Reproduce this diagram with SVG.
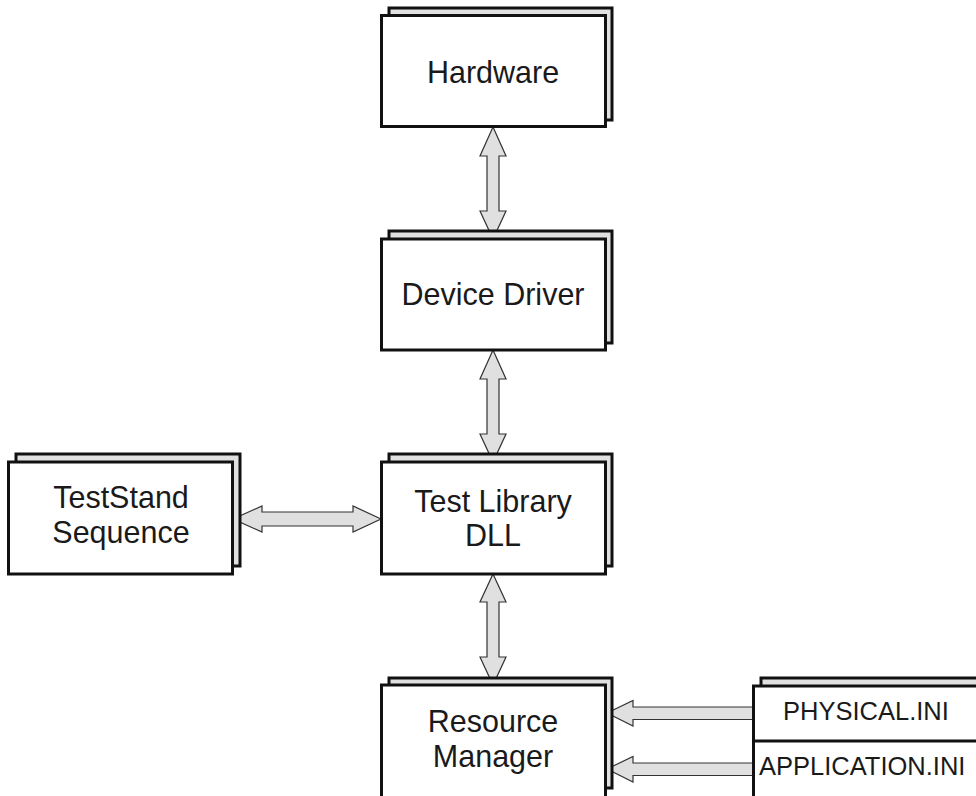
<svg xmlns="http://www.w3.org/2000/svg" width="976" height="796" viewBox="0 0 976 796">
<style>
.back{fill:#e0e0e0;stroke:#111;stroke-width:3}
.front{fill:#fff;stroke:#111;stroke-width:3}
.lbl{font-family:"Liberation Sans",Arial,sans-serif;font-size:30.5px;fill:#1a1a1a;text-anchor:middle}
.ini{font-family:"Liberation Sans",Arial,sans-serif;font-size:25.5px;fill:#1a1a1a}
.arr{fill:#e0e0e0;stroke:#333;stroke-width:1.2;stroke-linejoin:miter}
</style>
<rect width="976" height="796" fill="#fff"/>
<g id="connectors">
<polygon class="arr" points="493,127 506,156 499,156 499,211 506,211 493,239 480,211 487,211 487,156 480,156"/>
<polygon class="arr" points="493,350 506,379 499,379 499,434 506,434 493,462 480,434 487,434 487,379 480,379"/>
<polygon class="arr" points="493,574 506,602 499,602 499,657 506,657 493,685 480,657 487,657 487,602 480,602"/>
<polygon class="arr" points="233,519 262,506 262,512 353,512 353,506 381,519 353,532 353,526 262,526 262,532"/>
<polygon class="arr" points="607,713 633,700.5 633,707 753,707 753,719.5 633,719.5 633,726"/>
<polygon class="arr" points="607,769 633,756.5 633,763 753,763 753,775.5 633,775.5 633,782"/>
</g>
<g id="hardware">
<rect class="back" x="389" y="8" width="223" height="112"/>
<rect class="front" x="381.5" y="15.5" width="224" height="111"/>
<text class="lbl" x="493" y="83">Hardware</text>
</g>
<g id="device-driver">
<rect class="back" x="389" y="231" width="223" height="112"/>
<rect class="front" x="381.5" y="239" width="224" height="111"/>
<text class="lbl" x="493" y="305">Device Driver</text>
</g>
<g id="test-library">
<rect class="back" x="389" y="454" width="223" height="112"/>
<rect class="front" x="381.5" y="462" width="224" height="112"/>
<text class="lbl" x="493" y="512">Test Library</text>
<text class="lbl" x="493" y="546">DLL</text>
</g>
<g id="teststand">
<rect class="back" x="16" y="454" width="224" height="112"/>
<rect class="front" x="8.5" y="462" width="224" height="112"/>
<text class="lbl" x="121" y="508">TestStand</text>
<text class="lbl" x="121" y="543">Sequence</text>
</g>
<g id="resource-manager">
<rect class="back" x="389" y="678" width="223" height="110"/>
<rect class="front" x="381.5" y="685" width="224" height="130"/>
<text class="lbl" x="493" y="732">Resource</text>
<text class="lbl" x="493" y="767">Manager</text>
</g>
<g id="ini-files">
<rect class="back" x="761" y="678" width="240" height="130"/>
<rect class="front" x="753.5" y="686" width="240" height="130"/>
<line x1="753.5" y1="741" x2="980" y2="741" stroke="#111" stroke-width="3"/>
<text class="ini" x="783" y="720">PHYSICAL.INI</text>
<text class="ini" x="759" y="775">APPLICATION.INI</text>
</g>
</svg>
